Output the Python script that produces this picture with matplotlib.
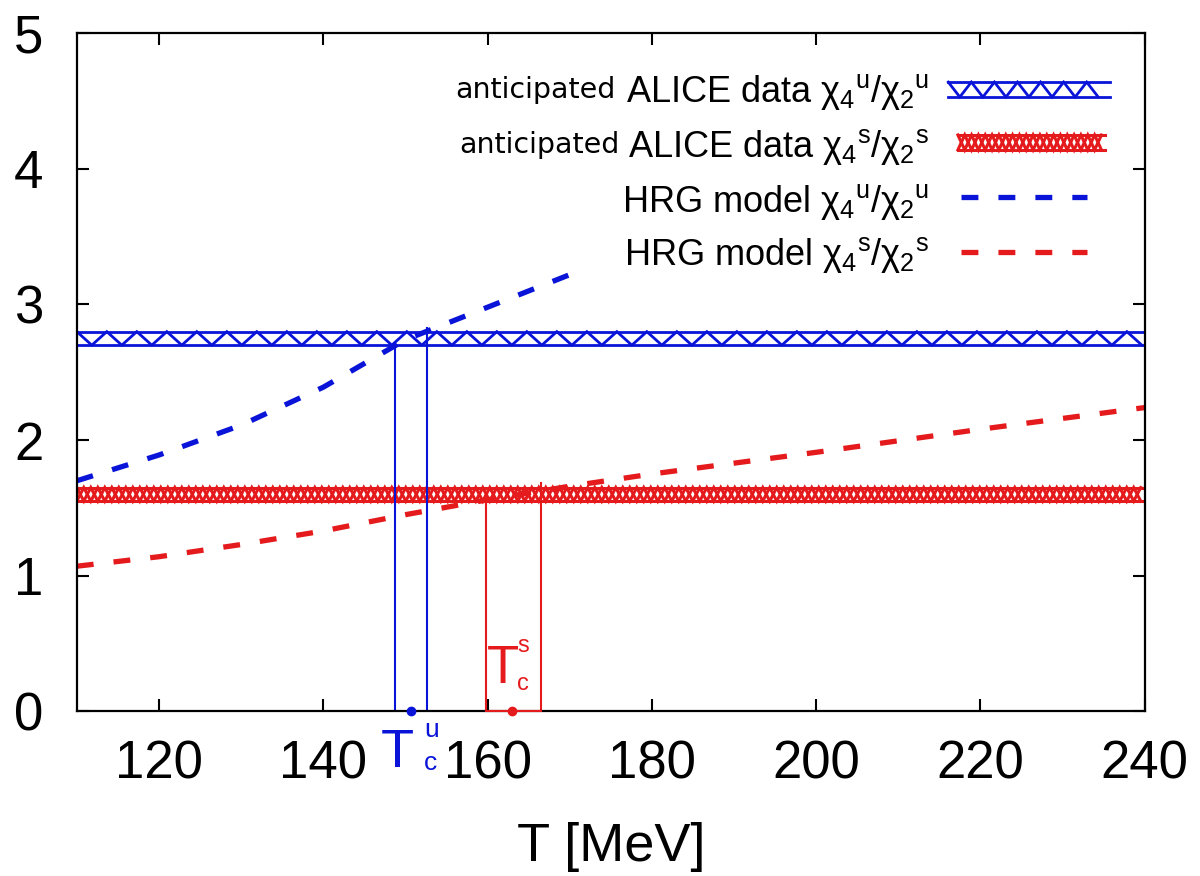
import matplotlib
matplotlib.use("Agg")
import matplotlib.pyplot as plt
import numpy as np

plt.rcParams['font.family'] = ['Liberation Sans', 'DejaVu Sans']
plt.rcParams['mathtext.fontset'] = 'custom'
plt.rcParams['mathtext.rm'] = 'Liberation Sans'
plt.rcParams['mathtext.it'] = 'Liberation Sans'

BLUE = '#0a14d8'
RED = '#e41a1c'

# HRG model curves
T_u = [110, 120, 130, 140, 150, 160, 170]
hrg_u = [1.70, 1.89, 2.11, 2.39, 2.74, 2.98, 3.22]
T_s = [110, 120, 130, 140, 150, 160, 170, 180, 200, 220, 240]
hrg_s = [1.07, 1.14, 1.23, 1.33, 1.45, 1.56, 1.66, 1.75, 1.91, 2.08, 2.24]

# anticipated ALICE bands
band_u = (2.70, 2.80)
band_s = (1.55, 1.65)

# crossing temperatures
Tc_u_range = [148.7, 152.6]
Tc_u_tops = [2.70, 2.83]
Tc_u = 150.7
Tc_s_range = [159.8, 166.5]
Tc_s_tops = [1.55, 1.68]
Tc_s = 163.0


def zigzag(ax, x0, x1, y0, y1, step, color, lw, transform=None, cross=False):
    # hatch-like zigzag between two horizontal lines
    tr = transform if transform is not None else ax.transData
    xs = np.arange(x0, x1 + 1e-9, step)
    ys = np.where(np.arange(len(xs)) % 2 == 0, y1, y0)
    ax.plot(xs, ys, color=color, lw=lw, transform=tr, solid_joinstyle='miter')
    if cross:
        ax.plot(xs, y0 + y1 - ys, color=color, lw=lw, transform=tr, solid_joinstyle='miter')
    ax.plot([x0, x1], [y0, y0], color=color, lw=lw, transform=tr)
    ax.plot([x0, x1], [y1, y1], color=color, lw=lw, transform=tr)


fig = plt.figure(figsize=(12, 8.76), dpi=100)
ax = fig.add_axes([0.064, 0.188, 0.890, 0.774])
ax.set_xlim(110, 240)
ax.set_ylim(0, 5)

# bands
zigzag(ax, 110, 240, band_u[0], band_u[1], 1.826, BLUE, 2.0)
zigzag(ax, 110, 240, band_s[0], band_s[1], 0.852, RED, 2.2, cross=True)

# HRG curves
ax.plot(T_u, hrg_u, color=BLUE, lw=3.8, dashes=(3.2, 3.8))
ax.plot(T_s, hrg_s, color=RED, lw=3.8, dashes=(3.2, 3.8))

# Tc brackets
for x, top in zip(Tc_u_range, Tc_u_tops):
    ax.plot([x, x], [0, top], color=BLUE, lw=1.5)
for x, top in zip(Tc_s_range, Tc_s_tops):
    ax.plot([x, x], [0, top], color=RED, lw=1.5)
ax.plot(Tc_s_range, [0, 0], color=RED, lw=1.5, clip_on=False, zorder=4)
ax.plot([Tc_u], [0], 'o', color=BLUE, ms=6, clip_on=False, zorder=5)
ax.plot([Tc_s], [0], 'o', color=RED, ms=6, clip_on=False, zorder=5)

tfam = ['Liberation Sans Narrow', 'Liberation Sans']
ax.text(147.0, -0.41, 'T', color=BLUE, fontsize=39, family=tfam, ha='left', va='baseline')
ax.text(152.3, -0.19, 'u', color=BLUE, fontsize=19, ha='left', va='baseline')
ax.text(152.3, -0.43, 'c', color=BLUE, fontsize=19, ha='left', va='baseline')
ax.text(159.9, 0.206, 'T', color=RED, fontsize=38, family=tfam, ha='left', va='baseline')
ax.text(163.6, 0.44, 's', color=RED, fontsize=17, ha='left', va='baseline')
ax.text(163.6, 0.155, 'c', color=RED, fontsize=17, ha='left', va='baseline')

# legend (built by hand)
rows = [0.898, 0.817, 0.736, 0.658]
xr = 0.798
labels = [r'ALICE data $\chi_4{}^{u}/\chi_2{}^{u}$',
          r'ALICE data $\chi_4{}^{s}/\chi_2{}^{s}$',
          r'HRG model $\chi_4{}^{u}/\chi_2{}^{u}$',
          r'HRG model $\chi_4{}^{s}/\chi_2{}^{s}$']
texts = [ax.text(xr, y, lab, transform=ax.transAxes, fontsize=26,
                 ha='right', va='baseline') for y, lab in zip(rows, labels)]

fig.canvas.draw()
for t, y, gap in zip(texts[:2], rows[:2], [10, 8]):
    x0_px = t.get_window_extent().x0 - gap
    xa = ax.transAxes.inverted().transform((x0_px, 0))[0]
    ax.text(xa, y + 0.007, 'anticipated', transform=ax.transAxes, family='DejaVu Sans',
            fontsize=20.5, ha='right', va='baseline')

ta = ax.transAxes
zigzag(ax, 0.816, 0.967, 0.906, 0.928, 0.0108, BLUE, 2.0, transform=ta)
zigzag(ax, 0.825, 0.963, 0.828, 0.850, 0.0064, RED, 2.2, transform=ta, cross=True)
ax.plot([0.828, 0.946], [0.758] * 2, transform=ta, color=BLUE, lw=3.8, dashes=(3.2, 3.8))
ax.plot([0.828, 0.946], [0.677] * 2, transform=ta, color=RED, lw=3.8, dashes=(3.2, 3.8))

# axes styling
ax.set_xticks([120, 140, 160, 180, 200, 220, 240])
ax.set_yticks([0, 1, 2, 3, 4, 5])
ax.tick_params(direction='in', length=8.5, width=1.5, top=True, right=True,
               labelsize=38, pad=20)
ax.tick_params(axis='y', pad=24)
for s in ax.spines.values():
    s.set_linewidth(1.6)
ax.set_xlabel('T [MeV]', fontsize=39, labelpad=24)

fig.savefig('out.png', dpi=100)
